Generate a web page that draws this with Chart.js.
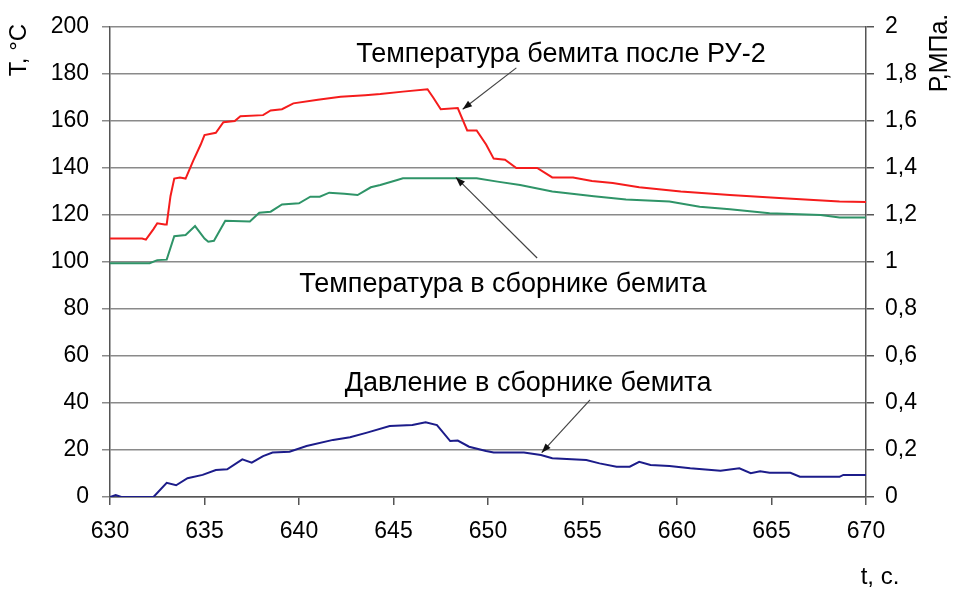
<!DOCTYPE html>
<html>
<head>
<meta charset="utf-8">
<script src="https://cdn.jsdelivr.net/npm/chart.js@4.4.1/dist/chart.umd.min.js"></script>
<style>
  html, body { margin: 0; padding: 0; background: #fff; }
  #wrap { width: 954px; height: 589px; position: relative; }
</style>
</head>
<body>
<div id="wrap"><canvas id="bemitChart"></canvas></div>
<script>
// time, s
const tRed = [630, 631.7, 631.9, 632.3, 632.5, 632.9, 633.0, 633.2, 633.4, 633.7, 634.0, 634.4, 634.8, 635.0, 635.6, 636.0, 636.6, 636.9, 638.1, 638.5, 639.1, 639.7, 641.0, 642.2, 643.5, 644.3, 645.5, 646.8, 647.1, 647.5, 648.4, 648.9, 649.4, 649.9, 650.3, 650.9, 651.5, 652.6, 653.4, 654.5, 655.5, 656.6, 658.0, 660.2, 662.8, 665.4, 668.6, 670];
const tempAfterRU = [110, 110, 109.5, 114, 116.5, 116, 116, 128, 135.5, 136, 135.5, 143, 150, 154, 155, 159.5, 160, 162, 162.5, 164.5, 165, 167.5, 169, 170.3, 171, 171.5, 172.5, 173.5, 170, 165, 165.5, 156, 156, 150, 144, 143.5, 140, 140, 136, 136, 134.5, 133.6, 131.8, 130, 128.5, 127.2, 125.7, 125.5];

const tGreen = [630, 632.1, 632.5, 633.0, 633.4, 634.0, 634.5, 635.0, 635.2, 635.5, 636.1, 637.4, 637.9, 638.5, 639.1, 640.0, 640.6, 641.1, 641.6, 642.4, 643.1, 643.8, 644.3, 645.2, 645.5, 649.4, 650.5, 651.7, 653.4, 655.6, 657.3, 659.6, 661.2, 662.8, 664.9, 667.6, 668.6, 670];
const tempCollector = [99.5, 99.5, 100.8, 101, 111, 111.5, 115.3, 110, 108.6, 109, 117.5, 117.2, 121, 121.4, 124.5, 125, 127.8, 127.8, 129.5, 129, 128.5, 131.8, 132.8, 134.9, 135.6, 135.6, 134.2, 132.8, 130, 128, 126.6, 125.7, 123.5, 122.4, 120.7, 120, 118.9, 118.9];

const tBlue = [630, 630.3, 630.6, 632.3, 633.0, 633.5, 634.1, 634.9, 635.6, 636.2, 637.0, 637.5, 638.1, 638.6, 639.5, 640.4, 641.8, 642.7, 643.6, 644.8, 646.0, 646.7, 647.3, 648.0, 648.4, 649.0, 649.9, 650.3, 651.9, 652.8, 653.4, 655.2, 655.9, 656.8, 657.5, 658.0, 658.6, 659.6, 660.7, 662.3, 663.3, 663.9, 664.4, 664.9, 666.0, 666.5, 668.6, 668.8, 670];
const pressCollector = [0, 0.008, 0, 0, 0.06, 0.05, 0.08, 0.094, 0.115, 0.118, 0.16, 0.146, 0.174, 0.189, 0.193, 0.217, 0.243, 0.254, 0.274, 0.302, 0.306, 0.318, 0.306, 0.238, 0.24, 0.214, 0.196, 0.189, 0.189, 0.179, 0.165, 0.157, 0.143, 0.129, 0.129, 0.15, 0.136, 0.132, 0.122, 0.112, 0.122, 0.101, 0.11, 0.103, 0.103, 0.086, 0.086, 0.094, 0.094];

// axis ranges / ticks
const tRange = [630, 670, 5];
const tempRange = [0, 200, 20];
const pressRange = [0, 2, 0.2];

// labels with arrow: text baseline position, arrow tail, arrow tip (t, T)
const labels = [
  { text: "Температура бемита после РУ-2", pos: [653.86, 185.2], tail: [651.5, 182.6], tip: [648.66, 165] },
  { text: "Температура в сборнике бемита", pos: [650.79, 87.4], tail: [652.6, 101.7], tip: [648.3, 136] },
  { text: "Давление в сборнике бемита", pos: [652.12, 45.1], tail: [655.4, 41.3], tip: [652.84, 18.85] }
];

const FONT = "'Liberation Sans', Arial, sans-serif";

function pts(xs, ys) {
  return xs.map((x, i) => ({ x: x, y: ys[i] }));
}

const annotations = {
  id: "annotations",
  afterDraw(chart) {
    const ctx = chart.ctx;
    const sx = chart.scales.x, sy = chart.scales.yT;
    ctx.save();
    labels.forEach((l) => {
      const x1 = sx.getPixelForValue(l.tail[0]), y1 = sy.getPixelForValue(l.tail[1]);
      const x2 = sx.getPixelForValue(l.tip[0]), y2 = sy.getPixelForValue(l.tip[1]);
      ctx.strokeStyle = "#444";
      ctx.lineWidth = 1.2;
      ctx.beginPath();
      ctx.moveTo(x1, y1);
      ctx.lineTo(x2, y2);
      ctx.stroke();
      const a = Math.atan2(y2 - y1, x2 - x1);
      ctx.fillStyle = "#111";
      ctx.beginPath();
      ctx.moveTo(x2, y2);
      ctx.lineTo(x2 - 10 * Math.cos(a - 0.35), y2 - 10 * Math.sin(a - 0.35));
      ctx.lineTo(x2 - 10 * Math.cos(a + 0.35), y2 - 10 * Math.sin(a + 0.35));
      ctx.closePath();
      ctx.fill();

      ctx.fillStyle = "#000";
      ctx.font = "27px " + FONT;
      ctx.textAlign = "center";
      ctx.textBaseline = "alphabetic";
      ctx.fillText(l.text, sx.getPixelForValue(l.pos[0]), sy.getPixelForValue(l.pos[1]));
    });

    // axis titles
    ctx.fillStyle = "#000";
    ctx.textBaseline = "middle";
    ctx.textAlign = "center";
    ctx.font = "24px " + FONT;
    ctx.save();
    ctx.translate(19, 50);
    ctx.rotate(-Math.PI / 2);
    ctx.fillText("T, °C", 0, 0);
    ctx.restore();
    ctx.font = "25px " + FONT;
    ctx.save();
    ctx.translate(940, 53);
    ctx.rotate(-Math.PI / 2);
    ctx.fillText("Р,МПа.", 0, 0);
    ctx.restore();
    ctx.font = "24px " + FONT;
    ctx.textBaseline = "alphabetic";
    ctx.fillText("t, c.", 880, 584);
    ctx.restore();
  }
};

const chartCanvas = document.getElementById("bemitChart").getContext("2d");

new Chart(chartCanvas, {
  type: "line",
  data: {
    datasets: [
      {
        label: "Температура бемита после РУ-2",
        data: pts(tRed, tempAfterRU),
        borderColor: "#f51c1c",
        borderWidth: 2,
        pointRadius: 0,
        yAxisID: "yT"
      },
      {
        label: "Температура в сборнике бемита",
        data: pts(tGreen, tempCollector),
        borderColor: "#2f9468",
        borderWidth: 2,
        pointRadius: 0,
        yAxisID: "yT"
      },
      {
        label: "Давление в сборнике бемита",
        data: pts(tBlue, pressCollector),
        borderColor: "#1c1c8a",
        borderWidth: 2,
        pointRadius: 0,
        yAxisID: "yP"
      }
    ]
  },
  options: {
    responsive: true,
    maintainAspectRatio: false,
    animation: false,
    layout: { padding: { top: 27, left: 0, right: 0, bottom: 0 } },
    plugins: {
      legend: { display: false },
      tooltip: { enabled: false }
    },
    scales: {
      x: {
        type: "linear",
        min: tRange[0],
        max: tRange[1],
        afterFit: (s) => { s.height = 92; },
        ticks: { stepSize: tRange[2], color: "#000", font: { family: FONT, size: 23 }, padding: 13 },
        grid: { drawOnChartArea: false, drawTicks: true, tickLength: 8, color: "#555", lineWidth: 1.5 },
        border: { color: "#555", width: 1.5 }
      },
      yT: {
        position: "left",
        min: tempRange[0],
        max: tempRange[1],
        afterFit: (s) => { s.width = 110; },
        ticks: { stepSize: tempRange[2], color: "#000", font: { family: FONT, size: 23 }, padding: 13 },
        grid: { color: "#8a8a8a", lineWidth: 1.5, tickLength: 8 },
        border: { color: "#555", width: 1.5 }
      },
      yP: {
        position: "right",
        min: pressRange[0],
        max: pressRange[1],
        afterFit: (s) => { s.width = 88; },
        ticks: {
          stepSize: pressRange[2],
          color: "#000",
          font: { family: FONT, size: 23 },
          padding: 11,
          callback: (v) => String(Number(v.toFixed(1))).replace(".", ",")
        },
        grid: { drawOnChartArea: false, tickLength: 8, color: "#555", lineWidth: 1.5 },
        border: { color: "#555", width: 1.5 }
      }
    }
  },
  plugins: [annotations]
});
</script>
</body>
</html>
